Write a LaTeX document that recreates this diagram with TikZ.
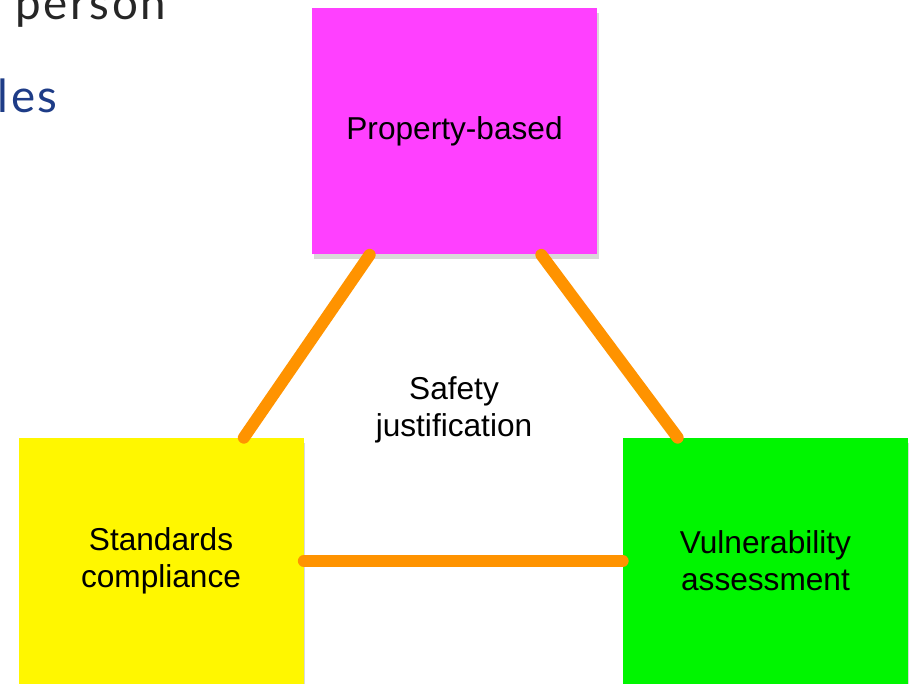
\documentclass[tikz,border=0pt]{standalone}
\usepackage{fontspec}
\setmainfont{Liberation Sans}
\newfontfamily\slidefont[LetterSpace=6]{Lato}
\usetikzlibrary{shadows}

\definecolor{propmagenta}{RGB}{255,64,255}
\definecolor{stdyellow}{RGB}{255,247,0}
\definecolor{vulngreen}{RGB}{0,245,0}
\definecolor{linkorange}{RGB}{255,147,0}
\definecolor{slideblue}{RGB}{30,60,135}

\begin{document}
\begin{tikzpicture}[
    box/.style={rectangle, minimum width=5.7cm, minimum height=4.92cm, inner sep=0pt,
        align=center, font=\fontsize{18}{21}\selectfont,
        drop shadow={shadow xshift=0.03cm, shadow yshift=-0.1cm, opacity=0.3}},
    link/.style={draw=linkorange, line width=0.24cm, line cap=round}]
    \useasboundingbox (0,0) rectangle (18.18,13.68);

    % Slide text behind the figure
    \node[anchor=base west, inner sep=0pt, text=black!85,
        font=\slidefont\fontsize{26}{30}\selectfont] (title) at (0.3,13.28) {person};
    \node[anchor=base east, inner sep=0pt, text=slideblue,
        font=\slidefont\fontsize{26}{30}\selectfont] (subtitle) at (1.16,11.42) {les};

    % Boxes
    \node[box, fill=propmagenta] (prop) at (9.09,11.05) {Property-based};
    \node[box, fill=stdyellow] (std) at (3.22,2.46) {Standards\\compliance};
    \node[box, fill=vulngreen] (vuln) at (15.31,2.46) {Vulnerability\\assessment};

    % Centre label
    \node[align=center, font=\fontsize{18}{21}\selectfont] (safety) at (9.08,5.48) {Safety\\justification};

    % Link ends
    \coordinate (prop-l) at ([xshift=1.16cm]prop.south west);
    \coordinate (prop-r) at ([xshift=-1.12cm]prop.south east);
    \coordinate (std-t) at ([xshift=-1.2cm]std.north east);
    \coordinate (vuln-t) at ([xshift=1.1cm]vuln.north west);

    % Links
    \draw[link] (prop-l) -- (std-t);
    \draw[link] (prop-r) -- (vuln-t);
    \draw[link] (std.east) -- (vuln.west);
\end{tikzpicture}
\end{document}
